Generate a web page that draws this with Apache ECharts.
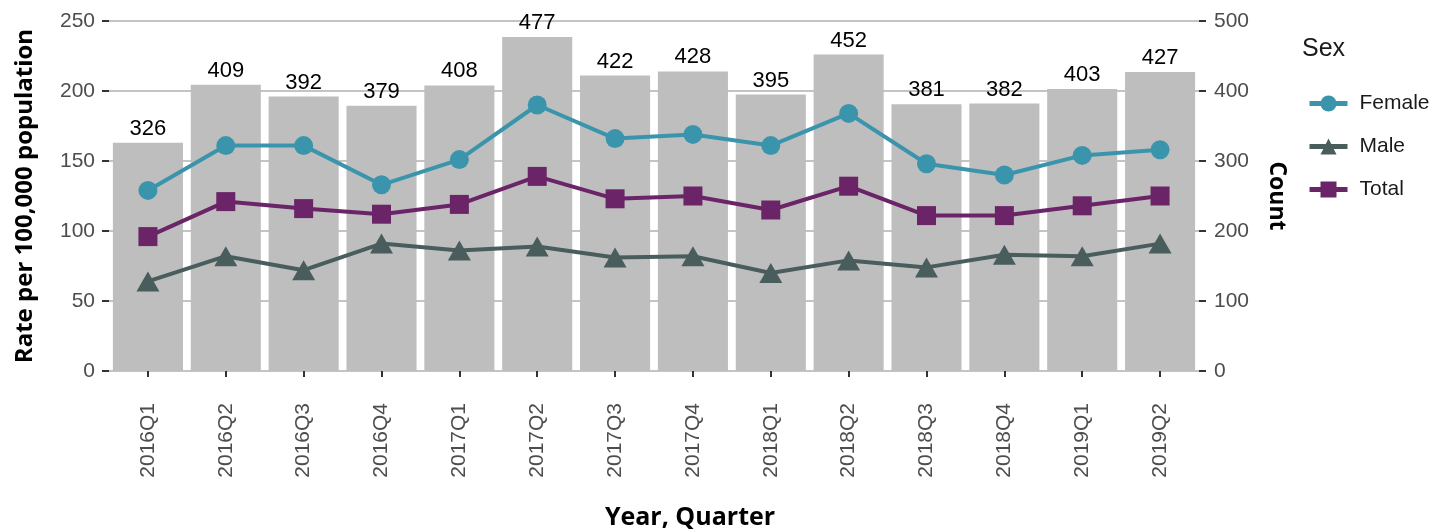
<!DOCTYPE html>
<html>
<head>
<meta charset="utf-8">
<script src="https://cdn.jsdelivr.net/npm/echarts@6/dist/echarts.min.js"></script>
<style>
html,body{margin:0;padding:0;background:#fff;}
#chart{width:1435px;height:529px;}
</style>
</head>
<body>
<div id="chart"></div>
<script>
const categories = ['2016Q1','2016Q2','2016Q3','2016Q4','2017Q1','2017Q2','2017Q3','2017Q4','2018Q1','2018Q2','2018Q3','2018Q4','2019Q1','2019Q2'];
const countValues = [326,409,392,379,408,477,422,428,395,452,381,382,403,427];
const femaleRate = [129,161,161,133,151,190,166,169,161,184,148,140,154,158];
const maleRate = [64,82,72,91,86,89,81,82,70,79,74,83,82,91];
const totalRate = [96,121,116,112,119,139,123,125,115,132,111,111,118,125];
const leftTicks = [0,50,100,150,200,250];
const rightTicks = [0,100,200,300,400,500];

const tickColor = '#4D4D4D';
const titleFont = '"Open Sans", sans-serif';
const labelFont = '"Liberation Sans", Arial, sans-serif';

const chart = echarts.init(document.getElementById('chart'));
chart.setOption({
  animation: false,
  backgroundColor: '#ffffff',
  grid: { left: 109, right: 236, top: 21, bottom: 158, containLabel: false, outerBoundsMode: 'none' },
  legend: {
    orient: 'vertical',
    left: 1302,
    top: 88,
    itemWidth: 38,
    itemHeight: 20,
    itemGap: 22,
    data: ['Female', 'Male', 'Total'],
    lineStyle: { width: 5 },
    textStyle: { fontSize: 21, color: '#1a1a1a', fontFamily: labelFont, padding: [0, 0, 0, 7] }
  },
  graphic: [{
    type: 'text',
    left: 1302,
    top: 37,
    style: { text: 'Sex', fontSize: 25, fill: '#1a1a1a', fontFamily: labelFont }
  }],
  xAxis: {
    type: 'category',
    data: categories,
    offset: 16,
    axisLine: { show: false },
    axisTick: { show: true, alignWithLabel: true, length: 6, lineStyle: { color: '#333', width: 2 } },
    axisLabel: { rotate: 90, fontSize: 21, color: tickColor, fontFamily: labelFont, margin: 16, interval: 0 },
    name: 'Year, Quarter',
    nameLocation: 'middle',
    nameGap: 118,
    nameTextStyle: { fontSize: 25, fontWeight: 'bold', color: '#000', fontFamily: titleFont, padding: [0, 0, 0, 72] }
  },
  yAxis: [{
    type: 'value',
    min: 0, max: 250, interval: 50,
    axisLine: { show: false },
    axisTick: { show: true, length: 7, lineStyle: { color: '#333', width: 2 } },
    axisLabel: { fontSize: 21, color: tickColor, fontFamily: labelFont, margin: 14,
      formatter: v => leftTicks.includes(v) ? String(v) : '' },
    splitLine: { show: true, lineStyle: { color: '#C4C4C4', width: 2 } },
    name: 'Rate per 100,000 population',
    nameLocation: 'middle',
    nameGap: 72,
    nameRotate: 90,
    nameTextStyle: { fontSize: 24, fontWeight: 'bold', color: '#000', fontFamily: titleFont }
  }, {
    type: 'value',
    min: 0, max: 500, interval: 100,
    position: 'right',
    axisLine: { show: false },
    axisTick: { show: true, length: 7, lineStyle: { color: '#333', width: 2 } },
    axisLabel: { fontSize: 21, color: tickColor, fontFamily: labelFont, margin: 15,
      formatter: v => rightTicks.includes(v) ? String(v) : '' },
    splitLine: { show: false },
    name: 'Count',
    nameLocation: 'middle',
    nameGap: 66,
    nameRotate: -90,
    nameTextStyle: { fontSize: 23, fontWeight: 'bold', color: '#000', fontFamily: titleFont }
  }],
  series: [{
    name: 'Count',
    type: 'bar',
    yAxisIndex: 1,
    data: countValues,
    barWidth: '90%',
    itemStyle: { color: '#BEBEBE' },
    label: { show: true, position: 'top', distance: 3, fontSize: 22, color: '#000', fontFamily: labelFont },
    z: 1
  }, {
    name: 'Female',
    type: 'line',
    yAxisIndex: 0,
    data: femaleRate,
    symbol: 'circle',
    symbolSize: 19,
    lineStyle: { color: '#3A95AC', width: 4 },
    itemStyle: { color: '#3A95AC' },
    z: 3
  }, {
    name: 'Male',
    type: 'line',
    yAxisIndex: 0,
    data: maleRate,
    symbol: 'triangle',
    symbolSize: [23, 20],
    lineStyle: { color: '#4A5D5D', width: 4 },
    itemStyle: { color: '#4A5D5D' },
    z: 3
  }, {
    name: 'Total',
    type: 'line',
    yAxisIndex: 0,
    data: totalRate,
    symbol: 'rect',
    symbolSize: 19,
    lineStyle: { color: '#6A2467', width: 4 },
    itemStyle: { color: '#6A2467' },
    z: 3
  }]
});
</script>
</body>
</html>
